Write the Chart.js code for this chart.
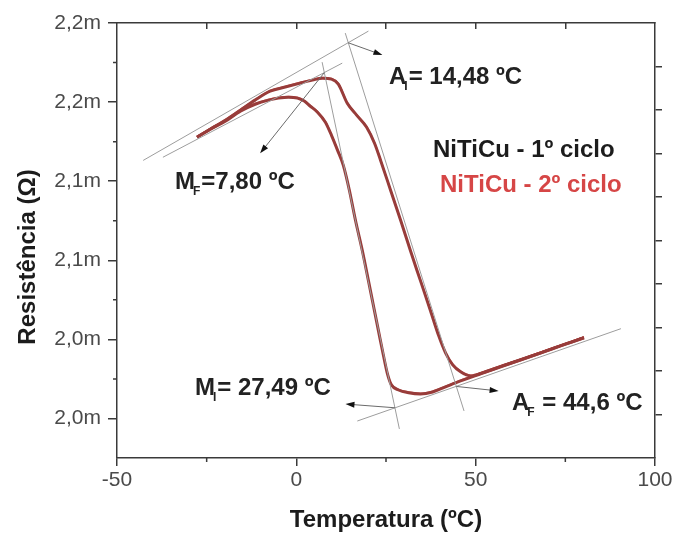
<!DOCTYPE html>
<html>
<head>
<meta charset="utf-8">
<script src="https://cdn.jsdelivr.net/npm/chart.js@4.4.1/dist/chart.umd.min.js"></script>
<style>
  html, body { margin: 0; padding: 0; background: #fff; }
  canvas { display: block; }
</style>
</head>
<body>
<canvas id="chart" width="676" height="538"></canvas>
<script>
// Temperature (ºC) steps for the heating and cooling sweeps
const heatT = [-27.7, -24.0, -19.8, -15.6, -11.5, -7.3, -3.1, 1.1, 4.5, 7.3, 9.8, 11.7, 14.2, 16.8, 19.6, 21.8, 23.5, 26.3, 29.1, 31.8, 34.6, 37.4, 39.7, 41.6, 43.6, 45.8, 48.6, 52.0, 57.0, 62.6, 68.2, 73.7, 80.2];
const coolT = [80.2, 73.7, 68.2, 62.6, 57.0, 51.4, 45.8, 41.6, 38.0, 34.6, 31.3, 28.5, 26.5, 25.4, 24.3, 22.9, 21.5, 20.1, 18.4, 16.5, 14.8, 13.1, 11.5, 9.8, 8.1, 5.9, 3.9, 2.2, 0.3, -2.2, -5.0, -7.8, -11.5, -15.6, -19.8, -24.0, -27.7];

// Resistance (mΩ), 1st cycle
const heatR1 = [2.1422, 2.1463, 2.1508, 2.1559, 2.1610, 2.1655, 2.1676, 2.1696, 2.1711, 2.1721, 2.1716, 2.1691, 2.1594, 2.1534, 2.1473, 2.1392, 2.1305, 2.1153, 2.1001, 2.0849, 2.0697, 2.0545, 2.0418, 2.0332, 2.0271, 2.0236, 2.0215, 2.0232, 2.0263, 2.0297, 2.0332, 2.0368, 2.0408];
const coolR1 = [2.0408, 2.0367, 2.0332, 2.0297, 2.0261, 2.0226, 2.0190, 2.0160, 2.0134, 2.0124, 2.0130, 2.0144, 2.0170, 2.0226, 2.0317, 2.0443, 2.0570, 2.0697, 2.0849, 2.1001, 2.1153, 2.1280, 2.1356, 2.1432, 2.1498, 2.1549, 2.1579, 2.1605, 2.1620, 2.1625, 2.1620, 2.1610, 2.1589, 2.1554, 2.1503, 2.1463, 2.1422];

// Resistance (mΩ), 2nd cycle
const heatR2 = [2.1425, 2.1467, 2.1511, 2.1563, 2.1613, 2.1659, 2.1679, 2.1700, 2.1714, 2.1725, 2.1719, 2.1695, 2.1598, 2.1537, 2.1477, 2.1395, 2.1309, 2.1156, 2.1005, 2.0852, 2.0701, 2.0548, 2.0422, 2.0335, 2.0275, 2.0239, 2.0219, 2.0235, 2.0267, 2.0300, 2.0336, 2.0371, 2.0412];
const coolR2 = [2.0412, 2.0370, 2.0336, 2.0300, 2.0265, 2.0229, 2.0194, 2.0163, 2.0138, 2.0127, 2.0134, 2.0147, 2.0174, 2.0229, 2.0321, 2.0446, 2.0574, 2.0700, 2.0853, 2.1004, 2.1157, 2.1283, 2.1360, 2.1435, 2.1502, 2.1552, 2.1583, 2.1608, 2.1624, 2.1628, 2.1624, 2.1613, 2.1593, 2.1557, 2.1507, 2.1466, 2.1426];

// Tangent construction lines [T1, R1, T2, R2]
const tangents = [
  [-42.7, 2.1305, 20.1, 2.1959],
  [-37.2, 2.1321, 12.8, 2.1797],
  [13.64, 2.1949, 46.76, 2.0038],
  [7.19, 2.1802, 28.73, 1.9947],
  [17.0, 1.9987, 90.5, 2.0454]
];

// Transformation points and where their arrows point [T, R, Tend, Rend]
const transitions = [
  [14.48, 2.1900, 24.0, 2.1838],   // As
  [7.80, 2.1749, -10.1, 2.1341],   // Mf
  [27.49, 2.0054, 13.7, 2.0073],   // Ms
  [44.6, 2.0162, 56.4, 2.0139]     // Af
];

// Axis ticks
const xTicks = [-50, 0, 50, 100];
const xMinor = [-25, 25, 75];
const yTicks = [2.00, 2.04, 2.08, 2.12, 2.16, 2.20];
const yTickLabels = ['2,0m', '2,0m', '2,1m', '2,1m', '2,2m', '2,2m'];
const yMinor = [2.02, 2.06, 2.10, 2.14, 2.18];

const axisColor = '#3a3a3a';
const tickColor = '#4a4a4a';
const fontFamily = '"Liberation Sans", Arial, sans-serif';

const pts = (xs, ys) => xs.map((x, i) => ({ x, y: ys[i] }));

function curve(data, color, width) {
  return { data, borderColor: color, borderWidth: width, showLine: true, pointRadius: 0, cubicInterpolationMode: 'monotone', fill: false };
}

const datasets = [];
tangents.forEach(t => {
  datasets.push({ data: [{ x: t[0], y: t[1] }, { x: t[2], y: t[3] }], borderColor: '#9d9d9d', borderWidth: 1, showLine: true, pointRadius: 0 });
});
datasets.push(curve(pts(heatT, heatR1), '#983c3a', 3));
datasets.push(curve(pts(coolT, coolR1), '#983c3a', 3));
datasets.push(curve(pts(heatT, heatR2), '#d4605a', 1.5));
datasets.push(curve(pts(coolT, coolR2), '#d4605a', 1.5));

// minor ticks, arrows and the text labels inside the plot
const extras = {
  id: 'extras',
  afterDatasetsDraw(chart) {
    const { ctx, chartArea: a, scales: { x, y } } = chart;
    ctx.save();
    ctx.strokeStyle = axisColor;
    ctx.lineWidth = 1.5;
    ctx.beginPath();
    xMinor.forEach(v => {
      const px = x.getPixelForValue(v);
      ctx.moveTo(px, a.bottom); ctx.lineTo(px, a.bottom + 4);
    });
    yMinor.forEach(v => {
      const py = y.getPixelForValue(v);
      ctx.moveTo(a.left, py); ctx.lineTo(a.left - 4, py);
    });
    ctx.stroke();

    // arrows from each transformation point
    transitions.forEach(t => {
      const x1 = x.getPixelForValue(t[0]), y1 = y.getPixelForValue(t[1]);
      const x2 = x.getPixelForValue(t[2]), y2 = y.getPixelForValue(t[3]);
      const ang = Math.atan2(y2 - y1, x2 - x1);
      ctx.strokeStyle = '#6a6a6a';
      ctx.lineWidth = 1;
      ctx.beginPath();
      ctx.moveTo(x1, y1);
      ctx.lineTo(x2 - 6 * Math.cos(ang), y2 - 6 * Math.sin(ang));
      ctx.stroke();
      ctx.fillStyle = '#111';
      ctx.beginPath();
      ctx.moveTo(x2, y2);
      ctx.lineTo(x2 - 9 * Math.cos(ang) + 3 * Math.sin(ang), y2 - 9 * Math.sin(ang) - 3 * Math.cos(ang));
      ctx.lineTo(x2 - 9 * Math.cos(ang) - 3 * Math.sin(ang), y2 - 9 * Math.sin(ang) + 3 * Math.cos(ang));
      ctx.closePath();
      ctx.fill();
    });

    const big = 'bold 24px ' + fontFamily;
    const small = 'bold 12px ' + fontFamily;
    ctx.textBaseline = 'middle';
    ctx.textAlign = 'left';

    function subLabel(px, py, main, sub, rest) {
      ctx.font = big;
      ctx.fillText(main, px, py);
      let cx = px + ctx.measureText(main).width;
      ctx.font = small;
      ctx.fillText(sub, cx - 2, py + 10);
      cx += ctx.measureText(sub).width - 1;
      ctx.font = big;
      ctx.fillText(rest, cx, py);
    }

    ctx.fillStyle = '#222';
    subLabel(389, 77, 'A', 'I', '= 14,48 ºC');
    subLabel(175, 182, 'M', 'F', '=7,80 ºC');
    subLabel(195, 388, 'M', 'I', '= 27,49 ºC');
    subLabel(512, 403, 'A', 'F', ' = 44,6 ºC');

    ctx.font = big;
    ctx.fillStyle = '#1c1c1c';
    ctx.fillText('NiTiCu - 1º ciclo', 433, 150);
    ctx.fillStyle = '#d64646';
    ctx.fillText('NiTiCu - 2º ciclo', 440, 185);

    // y axis title
    ctx.save();
    ctx.translate(28, 257);
    ctx.rotate(-Math.PI / 2);
    ctx.textAlign = 'center';
    ctx.font = 'bold 24px ' + fontFamily;
    ctx.fillStyle = '#1c1c1c';
    ctx.fillText('Resistência (Ω)', 0, 0);
    ctx.restore();
    ctx.restore();
  }
};

const tickFont = { family: fontFamily, size: 21 };

new Chart(document.getElementById('chart'), {
  type: 'scatter',
  data: { datasets },
  options: {
    responsive: false,
    animation: false,
    layout: { padding: { top: 23, right: 0, left: 0, bottom: 0 } },
    plugins: { legend: { display: false }, tooltip: { enabled: false } },
    scales: {
      x: {
        type: 'linear', min: -50, max: 100,
        afterBuildTicks: s => { s.ticks = xTicks.map(v => ({ value: v })); },
        afterFit: s => { s.height = 80; },
        ticks: { font: tickFont, color: tickColor, padding: 2, maxRotation: 0 },
        grid: { drawOnChartArea: false, tickLength: 8, color: axisColor, lineWidth: 1.5 },
        border: { color: axisColor, width: 1.5 },
        title: {
          display: true, text: 'Temperatura (ºC)', color: '#1c1c1c',
          font: { family: fontFamily, size: 24, weight: 'bold' },
          padding: { top: 0, bottom: 3 }
        }
      },
      x2: {
        type: 'linear', position: 'top', min: -50, max: 100,
        afterBuildTicks: s => { s.ticks = [-25, 0, 25, 50, 75].map(v => ({ value: v })); },
        afterFit: s => { s.height = 0; },
        ticks: { display: false },
        grid: { drawOnChartArea: false, tickLength: -6, color: axisColor, lineWidth: 1.5 },
        border: { color: axisColor, width: 1.5 }
      },
      y: {
        type: 'linear', min: 1.98, max: 2.20,
        afterBuildTicks: s => { s.ticks = yTicks.map(v => ({ value: v })); },
        afterFit: s => { s.width = 117; },
        ticks: { font: tickFont, color: tickColor, padding: 7, callback: (v, i) => yTickLabels[i] },
        grid: { drawOnChartArea: false, tickLength: 9, color: axisColor, lineWidth: 1.5 },
        border: { color: axisColor, width: 1.5 }
      },
      y2: {
        type: 'linear', position: 'right', min: 0, max: 10,
        afterBuildTicks: s => { s.ticks = [1, 2, 3, 4, 5, 6, 7, 8, 9].map(v => ({ value: v })); },
        afterFit: s => { s.width = 21; },
        ticks: { display: false },
        grid: { drawOnChartArea: false, tickLength: 7, color: axisColor, lineWidth: 1.5 },
        border: { color: axisColor, width: 1.5 }
      }
    }
  },
  plugins: [extras]
});
</script>
</body>
</html>
